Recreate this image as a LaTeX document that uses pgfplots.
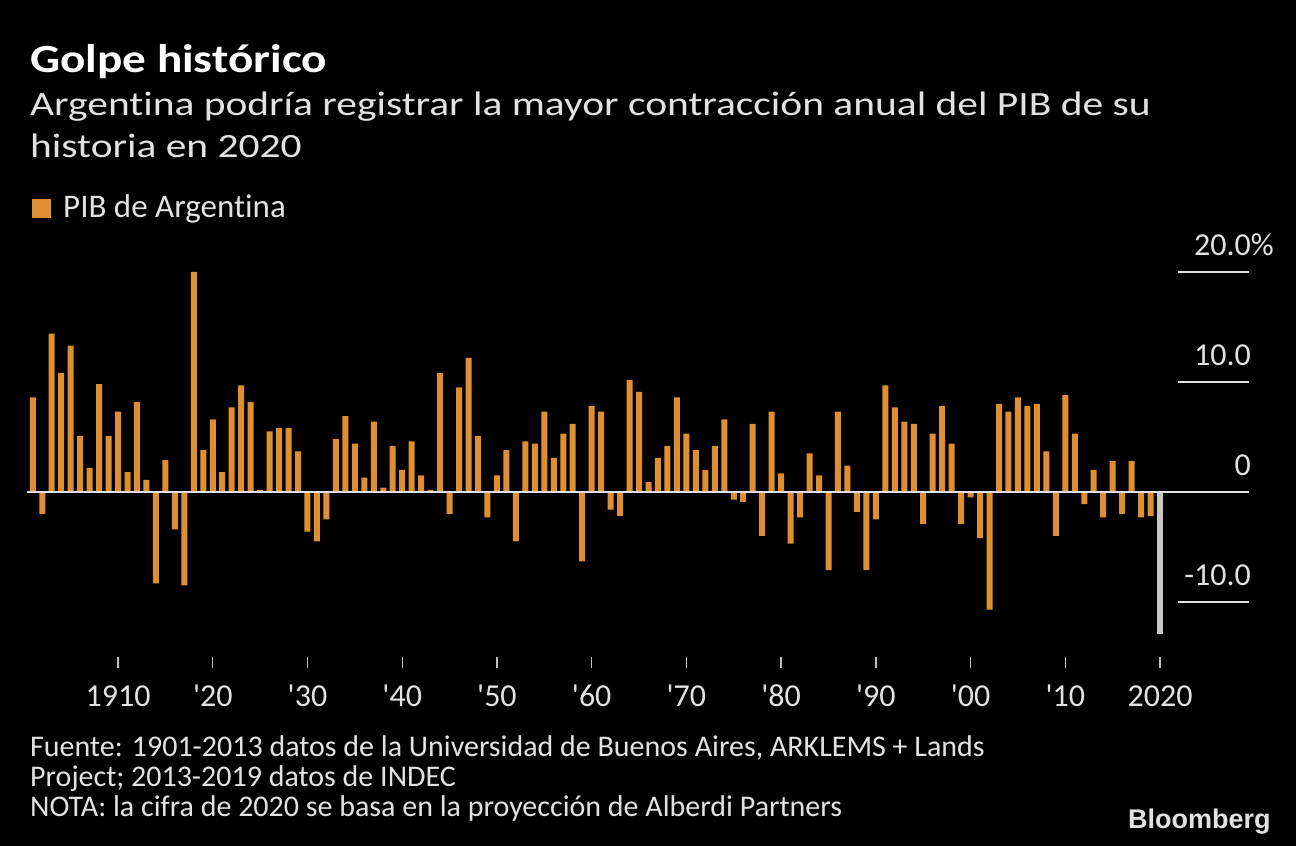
\documentclass[border=0pt]{standalone}
\usepackage{fontspec}
\usepackage{pgfplots}
\usepackage{pgfplotstable}
\pgfplotsset{compat=1.18}
\setmainfont{Carlito}[Ligatures=NoCommon]
\newfontfamily\subfont{Carlito}[FakeStretch=1.22, Ligatures=NoCommon]
\newfontfamily\titlefont{Carlito}[FakeStretch=1.18, Ligatures=NoCommon]
\newfontfamily\logofont{Liberation Sans}

\definecolor{barorange}{HTML}{DE8F32}
\definecolor{bargray}{HTML}{C8C8C8}
\definecolor{txt}{HTML}{E2E2E2}
\definecolor{tickgray}{HTML}{BDBDBD}

% crecimiento anual del PIB, %
\pgfplotstableread{
year val
1901 8.6
1902 -2.0
1903 14.4
1904 10.8
1905 13.3
1906 5.1
1907 2.2
1908 9.8
1909 5.1
1910 7.3
1911 1.8
1912 8.2
1913 1.1
1914 -8.3
1915 2.9
1916 -3.4
1917 -8.5
1918 20.0
1919 3.8
1920 6.6
1921 1.8
1922 7.7
1923 9.7
1924 8.2
1925 0.2
1926 5.5
1927 5.8
1928 5.8
1929 3.7
1930 -3.6
1931 -4.5
1932 -2.5
1933 4.8
1934 6.9
1935 4.4
1936 1.3
1937 6.4
1938 0.4
1939 4.2
1940 2.0
1941 4.6
1942 1.5
1943 0.2
1944 10.8
1945 -2.0
1946 9.5
1947 12.2
1948 5.1
1949 -2.3
1950 1.5
1951 3.8
1952 -4.5
1953 4.6
1954 4.4
1955 7.3
1956 3.1
1957 5.3
1958 6.2
1959 -6.3
1960 7.8
1961 7.3
1962 -1.6
1963 -2.2
1964 10.2
1965 9.1
1966 0.9
1967 3.1
1968 4.2
1969 8.6
1970 5.3
1971 3.8
1972 2.0
1973 4.2
1974 6.6
1975 -0.7
1976 -0.9
1977 6.2
1978 -4.0
1979 7.3
1980 1.7
1981 -4.7
1982 -2.3
1983 3.5
1984 1.5
1985 -7.1
1986 7.3
1987 2.4
1988 -1.8
1989 -7.1
1990 -2.5
1991 9.7
1992 7.7
1993 6.4
1994 6.2
1995 -2.9
1996 5.3
1997 7.8
1998 4.4
1999 -2.9
2000 -0.5
2001 -4.2
2002 -10.7
2003 8.0
2004 7.3
2005 8.6
2006 7.8
2007 8.0
2008 3.7
2009 -4.0
2010 8.8
2011 5.3
2012 -1.1
2013 2.0
2014 -2.3
2015 2.8
2016 -2.0
2017 2.8
2018 -2.3
2019 -2.2
}\pib

\begin{document}
\begin{tikzpicture}[x=1pt,y=1pt]
\fill[black] (0,0) rectangle (1296,846);
\useasboundingbox (0,0) rectangle (1296,846);

\node[anchor=base west, inner sep=0pt, text=white, font=\titlefont\fontsize{40}{40}\selectfont\bfseries] at (30,773) {Golpe histórico};
\node[anchor=base west, inner sep=0pt, text=txt, font=\subfont\fontsize{34}{34}\selectfont] at (30,730) {Argentina podría registrar la mayor contracción anual del PIB de su};
\node[anchor=base west, inner sep=0pt, text=txt, font=\subfont\fontsize{34}{34}\selectfont] at (30,688) {historia en 2020};

% leyenda
\node[anchor=base west, inner sep=0pt, text=txt, font=\fontsize{33}{33}\selectfont] at (32,628) {\textcolor{barorange}{\rule{19pt}{19pt}}\hspace{12pt}PIB de Argentina};

\begin{axis}[
  at={(27pt,189pt)}, anchor=south west,
  scale only axis, width=1222pt, height=407pt,
  xmin=1900.39, xmax=2029.39, ymin=-15, ymax=22,
  axis line style={draw=none},
  ybar, bar width=6pt, bar shift=0pt,
  xtick={1910,1920,...,2020},
  xticklabels={1910,\textquotesingle20,\textquotesingle30,\textquotesingle40,\textquotesingle50,\textquotesingle60,\textquotesingle70,\textquotesingle80,\textquotesingle90,\textquotesingle00,\textquotesingle10,2020},
  xtick pos=bottom, tick align=outside, major tick length=11pt,
  x tick style={draw=tickgray, line width=1.3pt},
  ytick={-10,0,10,20},
  yticklabels={-10.0,0,10.0,20.0\rlap{\%}},
  yticklabel pos=right, y tick style={draw=none},
  tick label style={text=txt, font=\fontsize{32}{32}\selectfont},
  xticklabel style={anchor=base, inner sep=0pt, yshift=-38pt},
  yticklabel style={anchor=base east, inner sep=0pt, xshift=-9pt, yshift=16pt},
  /pgf/number format/assume math mode=true,
  clip=false,
]
\addplot[fill=barorange, draw=none] table[x=year, y=val] {\pib};
\addplot[fill=bargray, draw=none] coordinates {(2020,-12.9)};
% linea de cero y marcas del eje y
\addplot[sharp plot, draw=txt, line width=2pt] coordinates {(1900.39,0) (2029.39,0)};
\addplot[sharp plot, draw=txt, line width=1.7pt] coordinates {(2021.9,20) (2029.39,20)};
\addplot[sharp plot, draw=txt, line width=1.7pt] coordinates {(2021.9,10) (2029.39,10)};
\addplot[sharp plot, draw=txt, line width=1.7pt] coordinates {(2021.9,-10) (2029.39,-10)};
\end{axis}

\node[anchor=base west, inner sep=0pt, text=txt, font=\fontsize{30}{30}\selectfont] at (30,89) {Fuente: 1901-2013 datos de la Universidad de Buenos Aires, ARKLEMS + Lands};
\node[anchor=base west, inner sep=0pt, text=txt, font=\fontsize{30}{30}\selectfont] at (30,59) {Project; 2013-2019 datos de INDEC};
\node[anchor=base west, inner sep=0pt, text=txt, font=\fontsize{30}{30}\selectfont] at (30,29) {NOTA: la cifra de 2020 se basa en la proyección de Alberdi Partners};
\node[anchor=base west, inner sep=0pt, text=txt, font=\logofont\bfseries\fontsize{27}{27}\selectfont] at (1128,17) {Bloomberg};
\end{tikzpicture}
\end{document}
